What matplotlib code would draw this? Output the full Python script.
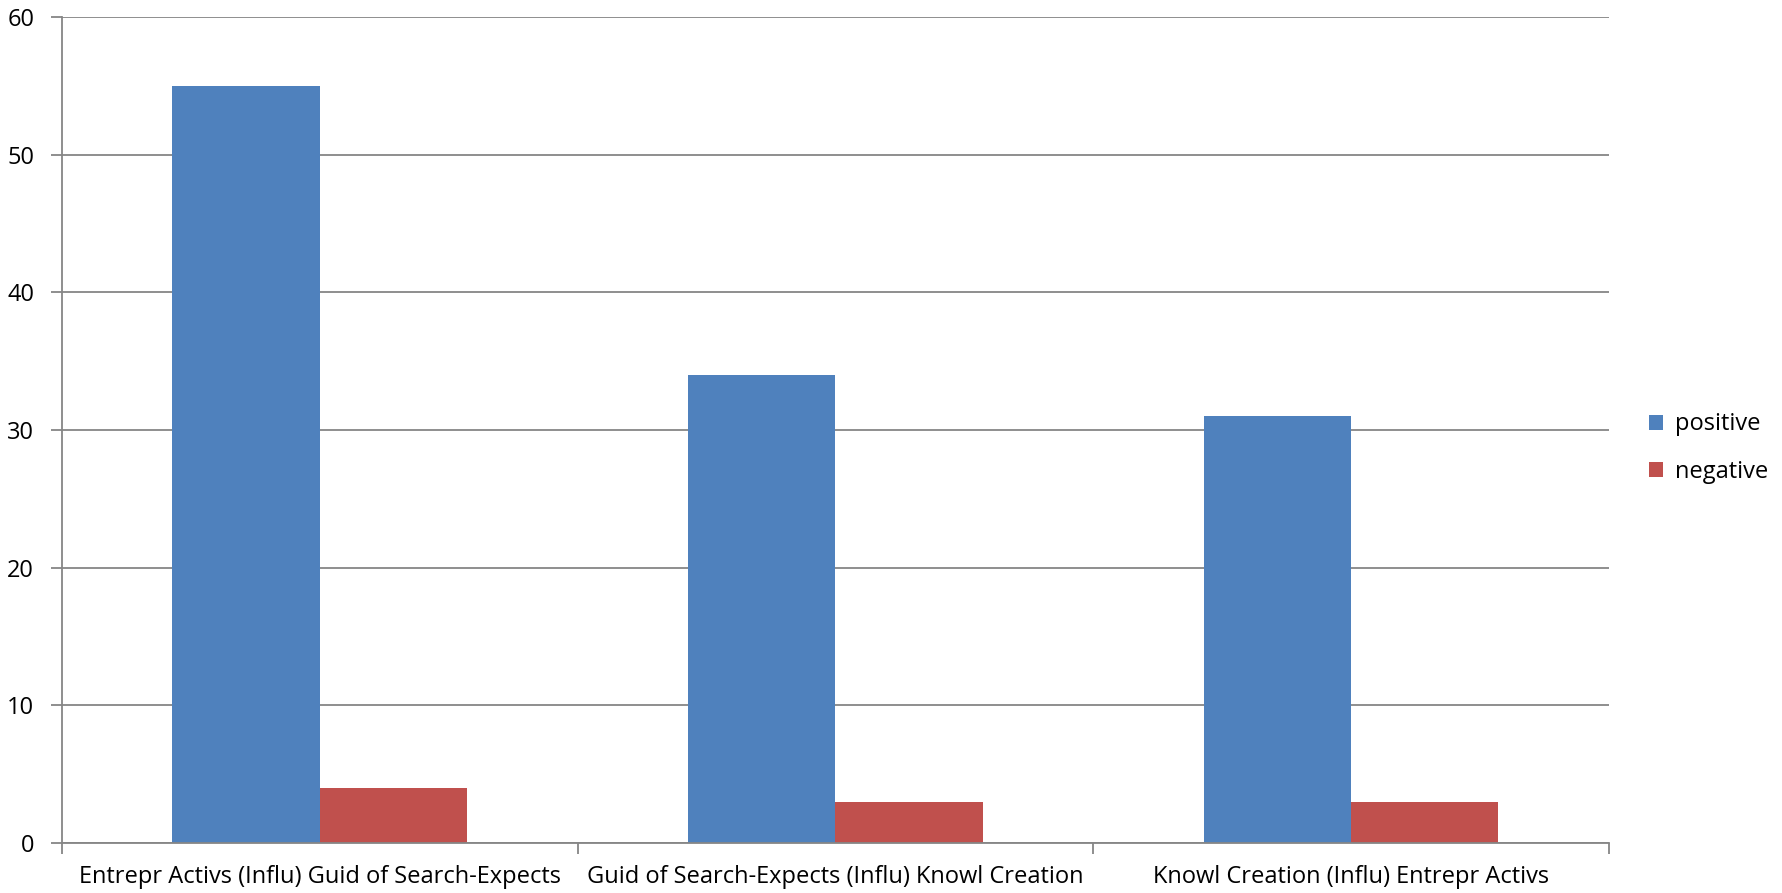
import matplotlib.pyplot as plt
import numpy as np

categories = ['Entrepr Activs (Influ) Guid of Search-Expects',
              'Guid of Search-Expects (Influ) Knowl Creation',
              'Knowl Creation (Influ) Entrepr Activs']
positive = [55, 34, 31]
negative = [4, 3, 3]

plt.rcParams['font.family'] = ['Open Sans', 'DejaVu Sans']

fig = plt.figure(figsize=(17.83, 8.93), dpi=100)
ax = fig.add_axes([62 / 1783, 1 - 843 / 893, (1609 - 62) / 1783, (843 - 17) / 893])

x = np.arange(len(categories))
w = 1 / 3.5
ax.bar(x - w / 2, positive, w, color='#4f81bd', label='positive')
ax.bar(x + w / 2, negative, w, color='#c0504d', label='negative')

ax.set_xlim(-0.5, len(categories) - 0.5)
ax.set_ylim(0, 60)
ax.set_yticks(range(0, 61, 10))
ax.yaxis.grid(True, color='#868686', linewidth=1.3)
ax.set_axisbelow(True)

ax.set_xticks(x)
ax.set_xticklabels(categories, fontsize=17)
ax.tick_params(axis='x', length=0, pad=16)
ax.set_xticks(np.arange(-0.5, len(categories), 1), minor=True)
ax.tick_params(axis='x', which='minor', length=8, color='#868686', width=1.3)
ax.tick_params(axis='y', length=8, color='#868686', width=1.3, labelsize=17, pad=12)

for s in ['top', 'right']:
    ax.spines[s].set_visible(False)
for s in ['left', 'bottom']:
    ax.spines[s].set_color('#868686')
    ax.spines[s].set_linewidth(1.3)

ax.legend(loc='center left', bbox_to_anchor=(1.012, 0.478), frameon=False,
          fontsize=17, handlelength=0.6, handleheight=0.6, handletextpad=0.5,
          labelspacing=1.0)

fig.savefig('out.png', dpi=100)
